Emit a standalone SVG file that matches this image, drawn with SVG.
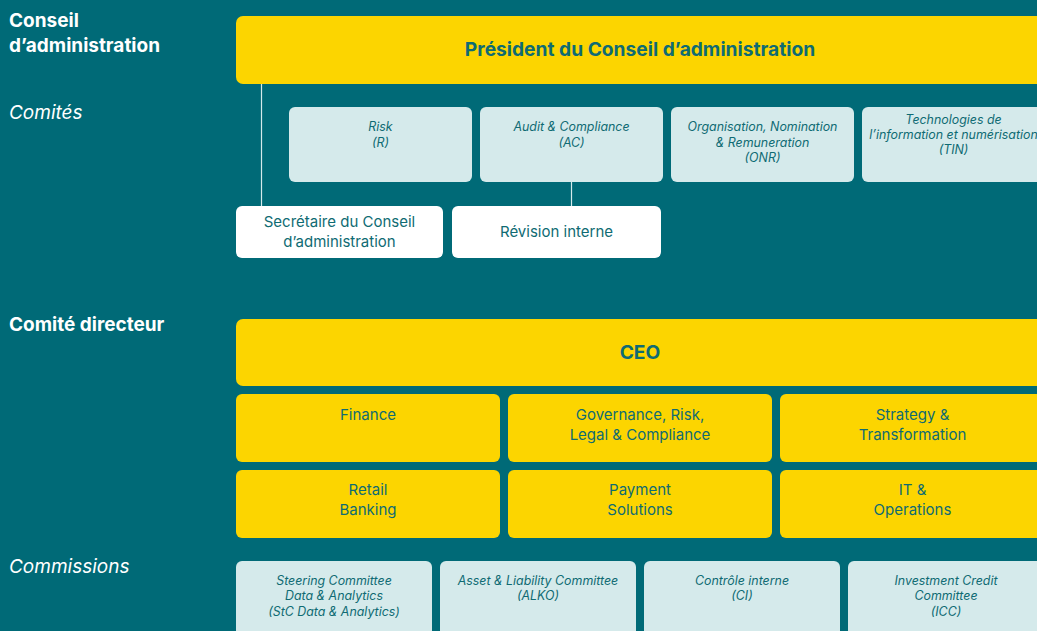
<svg xmlns="http://www.w3.org/2000/svg" width="1037" height="631" viewBox="0 0 1037 631">
<style>
.bg{fill:#006a77}
.y{fill:#fcd500}
.c{fill:#d5eaeb}
.w{fill:#ffffff}
text{font-family:Inter,"Open Sans","Liberation Sans",sans-serif}
.lab{fill:#ffffff;font-size:19px}
.b{font-weight:700}
.i{font-style:italic}
.t{fill:#0f6b73;text-anchor:middle}
.big{font-size:19.2px;font-weight:700}
.m{font-size:15px}
.s{font-size:12.4px;font-style:italic}
.ln{stroke:#d5eaeb;stroke-width:1.2;fill:none}
</style>
<rect class="bg" x="0" y="0" width="1037" height="631"/>
<g id="labels">
<text class="lab b" x="9" y="27">Conseil</text>
<text class="lab b" x="9" y="52">d’administration</text>
<text class="lab i" x="9" y="119">Comités</text>
<text class="lab b" x="9" y="331">Comité directeur</text>
<text class="lab i" x="9" y="573">Commissions</text>
</g>
<g id="connectors">
<line class="ln" x1="261.5" y1="84" x2="261.5" y2="206"/>
<line class="ln" x1="571.5" y1="182" x2="571.5" y2="206"/>
</g>
<g id="president"><rect class="y" x="236" y="16" width="820" height="68" rx="7"/><text class="t big" x="640" y="56">Président du Conseil d’administration</text></g>
<g id="risk"><rect class="c" x="289" y="107" width="183" height="75" rx="6"/><text class="t s" x="380.5" y="131">Risk</text><text class="t s" x="380.5" y="147">(R)</text></g>
<g id="audit"><rect class="c" x="480" y="107" width="183" height="75" rx="6"/><text class="t s" x="571.5" y="131">Audit &amp; Compliance</text><text class="t s" x="571.5" y="147">(AC)</text></g>
<g id="onr"><rect class="c" x="671" y="107" width="183" height="75" rx="6"/><text class="t s" x="762.5" y="131">Organisation, Nomination</text><text class="t s" x="762.5" y="147">&amp; Remuneration</text><text class="t s" x="762.5" y="162">(ONR)</text></g>
<g id="tin"><rect class="c" x="862" y="107" width="190" height="75" rx="6"/><text class="t s" x="953.5" y="124">Technologies de</text><text class="t s" x="953.5" y="139">l’information et numérisation</text><text class="t s" x="953.5" y="154">(TIN)</text></g>
<g id="secretaire"><rect class="w" x="236" y="206" width="207" height="52" rx="6"/><text class="t m" x="339.5" y="227">Secrétaire du Conseil</text><text class="t m" x="339.5" y="247">d’administration</text></g>
<g id="revision"><rect class="w" x="452" y="206" width="209" height="52" rx="6"/><text class="t m" x="556.5" y="237">Révision interne</text></g>
<g id="ceo"><rect class="y" x="236" y="319" width="820" height="67" rx="7"/><text class="t big" x="640" y="359">CEO</text></g>
<g id="finance"><rect class="y" x="236" y="394" width="264" height="68" rx="6"/><text class="t m" x="368" y="420">Finance</text></g>
<g id="governance"><rect class="y" x="508" y="394" width="264" height="68" rx="6"/><text class="t m" x="640" y="420">Governance, Risk,</text><text class="t m" x="640" y="440">Legal &amp; Compliance</text></g>
<g id="strategy"><rect class="y" x="780" y="394" width="270" height="68" rx="6"/><text class="t m" x="912.5" y="420">Strategy &amp;</text><text class="t m" x="912.5" y="440">Transformation</text></g>
<g id="retail"><rect class="y" x="236" y="470" width="264" height="68" rx="6"/><text class="t m" x="368" y="495">Retail</text><text class="t m" x="368" y="515">Banking</text></g>
<g id="payment"><rect class="y" x="508" y="470" width="264" height="68" rx="6"/><text class="t m" x="640" y="495">Payment</text><text class="t m" x="640" y="515">Solutions</text></g>
<g id="itops"><rect class="y" x="780" y="470" width="270" height="68" rx="6"/><text class="t m" x="912.5" y="495">IT &amp;</text><text class="t m" x="912.5" y="515">Operations</text></g>
<g id="steering"><rect class="c" x="236" y="561" width="196" height="80" rx="6"/><text class="t s" x="334" y="585">Steering Committee</text><text class="t s" x="334" y="600">Data &amp; Analytics</text><text class="t s" x="334" y="616">(StC Data &amp; Analytics)</text></g>
<g id="alko"><rect class="c" x="440" y="561" width="196" height="80" rx="6"/><text class="t s" x="538" y="585">Asset &amp; Liability Committee</text><text class="t s" x="538" y="600">(ALKO)</text></g>
<g id="ci"><rect class="c" x="644" y="561" width="196" height="80" rx="6"/><text class="t s" x="742" y="585">Contrôle interne</text><text class="t s" x="742" y="600">(CI)</text></g>
<g id="icc"><rect class="c" x="848" y="561" width="196" height="80" rx="6"/><text class="t s" x="946" y="585">Investment Credit</text><text class="t s" x="946" y="600">Committee</text><text class="t s" x="946" y="616">(ICC)</text></g>
</svg>
